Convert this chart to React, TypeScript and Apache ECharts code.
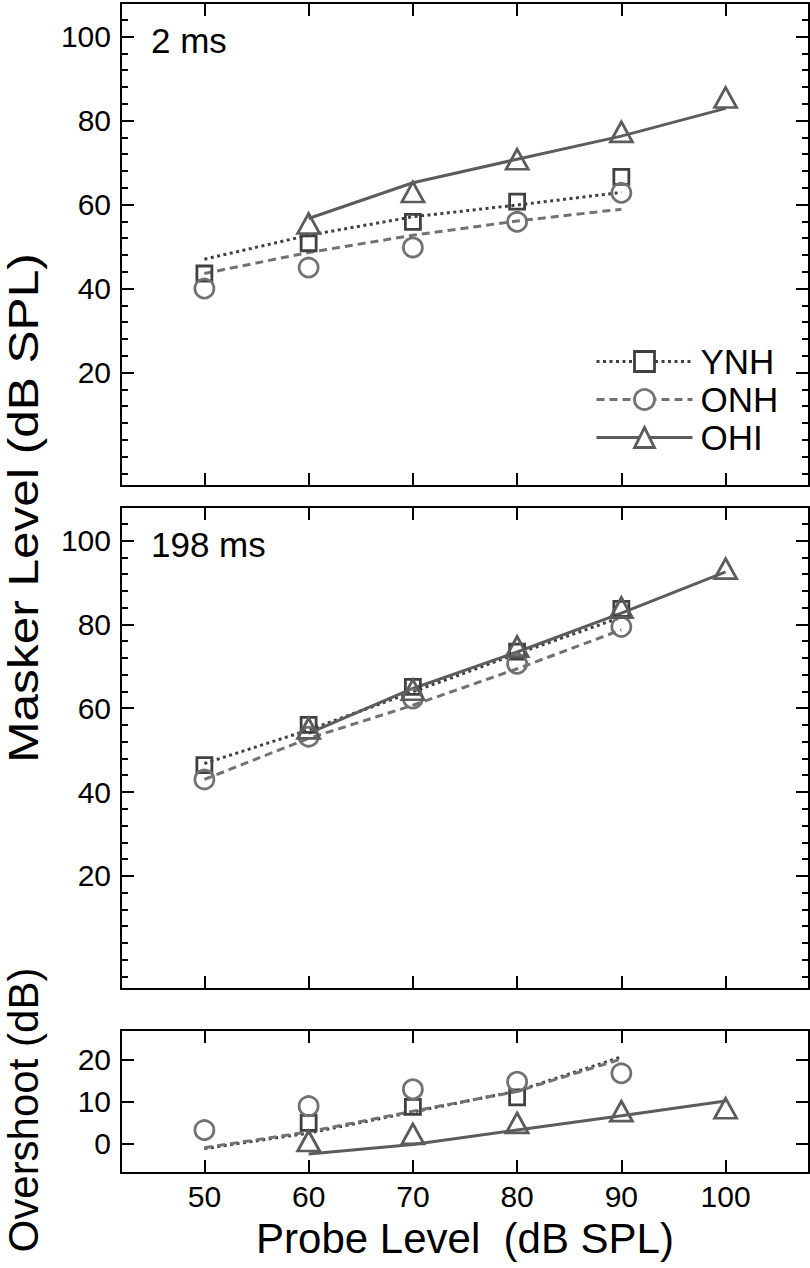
import React, { useEffect, useRef } from 'react';
import * as echarts from 'echarts';

// ---- data ----
const probeLevels = [50, 60, 70, 80, 90];
const probeLevelsOHI = [60, 70, 80, 90, 100];
const xTicks = [50, 60, 70, 80, 90, 100];
const maskerLabelTicks = [20, 40, 60, 80, 100];
const maskerMinorTicks = [-4, 0, 4, 8, 12, 16, 24, 28, 32, 36, 44, 48, 52, 56, 64, 68, 72, 76, 84, 88, 92, 96, 104];
const overshootTicks = [0, 10, 20];

// 2 ms panel
const ynh2 = [43.6, 50.8, 55.9, 60.7, 66.6];
const onh2 = [40.0, 45.0, 49.8, 55.9, 62.8];
const ohi2 = [55.5, 63.0, 70.8, 77.3, 85.5];
const ynh2Fit = [47.0, 52.7, 57.1, 59.9, 62.9];
const onh2Fit = [43.6, 48.6, 52.7, 56.1, 58.9];
const ohi2Fit = [56.7, 65.2, 70.8, 76.3, 82.9];

// 198 ms panel
const ynh198 = [46.4, 56.0, 65.1, 73.5, 83.7];
const onh198 = [43.0, 53.2, 62.3, 70.6, 79.4];
const ohi198 = [55.2, 64.4, 74.7, 84.0, 93.3];
const ynh198Fit = [46.8, 54.8, 63.9, 73.0, 81.7];
const onh198Fit = [43.0, 52.8, 60.7, 69.4, 78.7];
const ohi198Fit = [54.0, 64.7, 73.4, 82.7, 92.5];

// overshoot panel (YNH markers not visible at 50 and 90)
const ynhOs = [null, 4.9, 8.7, 11.0, null];
const onhOs = [3.2, 8.9, 12.9, 14.7, 16.7];
const ohiOs = [0.6, 2.3, 4.9, 7.7, 8.4];
const ynhOsFit = [-1.2, 2.5, 7.5, 12.5, 20.6];
const onhOsFit = [-1.0, 2.8, 7.7, 12.4, 20.1];
const ohiOsFit = [-2.5, -0.2, 3.2, 6.6, 10.1];

const FONT = '"Liberation Sans", Arial, Helvetica, sans-serif';

const STY: any = {
  YNH: { color: '#404040', line: [3, 3.5], symbol: 'rect', size: 15 },
  ONH: { color: '#727272', line: [8, 5], symbol: 'circle', size: 19 },
  OHI: { color: '#5c5c5c', line: 'solid', symbol: 'triangle', size: [22, 20] },
};

const pair = (xs: number[], ys: (number | null)[]) =>
  xs.map((x, i) => [x, ys[i]]).filter((p) => p[1] !== null);

export default function App() {
  const ref = useRef<HTMLDivElement>(null);
  useEffect(() => {
    if (!ref.current) return;
    const chart = echarts.init(ref.current, undefined, { renderer: 'svg' });

    const grids = [
      { left: 121, top: 3, width: 688, height: 483 },
      { left: 121, top: 507, width: 688, height: 482 },
      { left: 121, top: 1030, width: 688, height: 143 },
    ];
    const yRanges = [
      [-7, 108],
      [-7, 108],
      [-7, 27],
    ];

    const xAxes: any[] = [];
    const yAxes: any[] = [];
    const axisLine = { show: true, onZero: false, lineStyle: { color: '#000', width: 2 } };
    const xBottomIdx: number[] = [];
    const yLeftIdx: number[] = [];

    grids.forEach((g, gi) => {
      ['bottom', 'top'].forEach((pos) => {
        if (pos === 'bottom') xBottomIdx.push(xAxes.length);
        xAxes.push({
          type: 'value',
          gridIndex: gi,
          position: pos,
          min: 42,
          max: 108,
          axisLine,
          splitLine: { show: false },
          axisTick: { show: true, inside: true, length: 13, customValues: xTicks, lineStyle: { color: '#000', width: 2 } },
          axisLabel: {
            show: gi === 2 && pos === 'bottom',
            customValues: xTicks,
            fontSize: 30,
            lineHeight: 30,
            fontFamily: FONT,
            color: '#000',
            margin: 8,
          },
        });
      });
      const isMasker = gi < 2;
      ['left', 'right'].forEach((pos) => {
        if (pos === 'left') yLeftIdx.push(yAxes.length);
        yAxes.push({
          type: 'value',
          gridIndex: gi,
          position: pos,
          min: yRanges[gi][0],
          max: yRanges[gi][1],
          axisLine,
          splitLine: { show: false },
          axisTick: {
            show: true,
            inside: true,
            length: 13,
            customValues: isMasker ? maskerLabelTicks : overshootTicks,
            lineStyle: { color: '#000', width: 2 },
          },
          axisLabel: {
            show: pos === 'left',
            customValues: isMasker ? maskerLabelTicks : overshootTicks,
            fontSize: 30,
            fontFamily: FONT,
            color: '#000',
            margin: 10,
          },
        });
        if (isMasker) {
          yAxes.push({
            type: 'value',
            gridIndex: gi,
            position: pos,
            offset: 0,
            min: yRanges[gi][0],
            max: yRanges[gi][1],
            axisLine: { show: false, onZero: false },
            splitLine: { show: false },
            axisTick: {
              show: true,
              inside: true,
              length: 7,
              customValues: maskerMinorTicks,
              lineStyle: { color: '#000', width: 2 },
            },
            axisLabel: { show: false },
          });
        }
      });
    });

    const series: any[] = [];
    const addPanel = (gi: number, marks: any, fits: any) => {
      (['YNH', 'ONH', 'OHI'] as const).forEach((name) => {
        const s = STY[name];
        const xs = name === 'OHI' ? probeLevelsOHI : probeLevels;
        series.push({
          type: 'line',
          name: name + ' fit ' + gi,
          xAxisIndex: xBottomIdx[gi],
          yAxisIndex: yLeftIdx[gi],
          data: pair(xs, fits[name]),
          symbol: 'none',
          lineStyle: { color: s.color, width: 3, type: s.line },
          silent: true,
          z: 2,
        });
      });
      (['YNH', 'ONH', 'OHI'] as const).forEach((name) => {
        const s = STY[name];
        const xs = name === 'OHI' ? probeLevelsOHI : probeLevels;
        series.push({
          type: 'line',
          name,
          xAxisIndex: xBottomIdx[gi],
          yAxisIndex: yLeftIdx[gi],
          data: pair(xs, marks[name]),
          symbol: s.symbol,
          symbolSize: s.size,
          showSymbol: true,
          showAllSymbol: true,
          lineStyle: { width: 0, color: s.color },
          itemStyle: { color: 'rgba(255,255,255,0)', borderColor: s.color, borderWidth: 2.8 },
          silent: true,
          z: 3,
        });
      });
    };
    addPanel(0, { YNH: ynh2, ONH: onh2, OHI: ohi2 }, { YNH: ynh2Fit, ONH: onh2Fit, OHI: ohi2Fit });
    addPanel(1, { YNH: ynh198, ONH: onh198, OHI: ohi198 }, { YNH: ynh198Fit, ONH: onh198Fit, OHI: ohi198Fit });
    addPanel(2, { YNH: ynhOs, ONH: onhOs, OHI: ohiOs }, { YNH: ynhOsFit, ONH: onhOsFit, OHI: ohiOsFit });

    const legendData = (['YNH', 'ONH', 'OHI'] as const).map((name) => {
      const s = STY[name];
      return {
        name,
        lineStyle: { color: s.color, width: 3, type: s.line, opacity: 1 },
        itemStyle: { color: '#fff', borderColor: s.color, borderWidth: 2.8, opacity: 1 },
      };
    });

    chart.setOption({
      animation: false,
      backgroundColor: '#fff',
      grid: grids.map((g) => ({ ...g, show: false })),
      xAxis: xAxes,
      yAxis: yAxes,
      series,
      legend: {
        show: true,
        orient: 'vertical',
        left: 590,
        top: 339,
        itemWidth: 96,
        itemHeight: 25,
        itemGap: 3,
        selectedMode: false,
        data: legendData,
        textStyle: { fontSize: 35, lineHeight: 34, fontFamily: FONT, color: '#000', padding: [0, 0, 0, 3] },
      },
      graphic: [
        {
          type: 'text',
          x: 151,
          y: 40,
          style: { text: '2 ms', fontSize: 35, fontFamily: FONT, fill: '#000', align: 'left', verticalAlign: 'middle' },
        },
        {
          type: 'text',
          x: 151,
          y: 544,
          style: { text: '198 ms', fontSize: 35, fontFamily: FONT, fill: '#000', align: 'left', verticalAlign: 'middle' },
        },
        {
          type: 'text',
          x: 23,
          y: 508,
          rotation: Math.PI / 2,
          scaleX: 1.18,
          style: { text: 'Masker Level (dB SPL)', fontSize: 42, lineHeight: 40, fontFamily: FONT, fill: '#000', align: 'center', verticalAlign: 'middle' },
        },
        {
          type: 'text',
          x: 23,
          y: 1110,
          rotation: Math.PI / 2,
          style: { text: 'Overshoot (dB)', fontSize: 42, lineHeight: 40, fontFamily: FONT, fill: '#000', align: 'center', verticalAlign: 'middle' },
        },
        {
          type: 'text',
          x: 465,
          y: 1238,
          style: { text: 'Probe Level  (dB SPL)', fontSize: 42, lineHeight: 40, fontFamily: FONT, fill: '#000', align: 'center', verticalAlign: 'middle' },
        },
      ],
    });
    return () => chart.dispose();
  }, []);
  return <div ref={ref} style={{ position: 'fixed', left: 0, top: 0, width: 810, height: 1268, background: '#fff' }} />;
}
